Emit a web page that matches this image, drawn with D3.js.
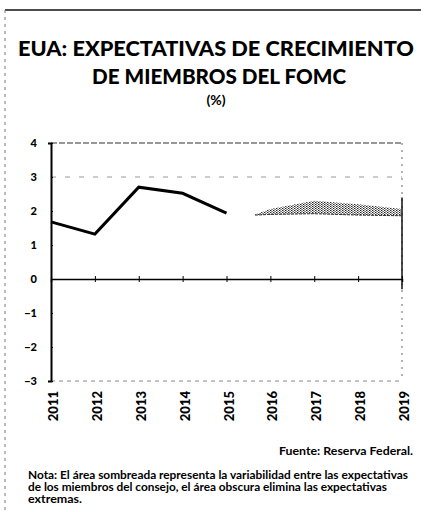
<!DOCTYPE html>
<html>
<head>
<meta charset="utf-8">
<script src="https://cdn.jsdelivr.net/npm/d3@7"></script>
<style>
  body { margin: 0; background: #fff; }
  svg { display: block; }
  text { font-family: Lato, "Open Sans", sans-serif; fill: #000; }
</style>
</head>
<body>
<div id="chart"></div>
<script>
// chart data
var years = [2011, 2012, 2013, 2014, 2015];
var growth = [1.68, 1.32, 2.7, 2.52, 1.94];
// FOMC range of expectations (shaded)
var rangeYears = [2015.65, 2016, 2017, 2018, 2019];
var rangeLow = [1.88, 1.9, 1.92, 1.88, 1.86];
var rangeHigh = [1.9, 2.06, 2.3, 2.2, 2.06];
var yTicks = [-3, -2, -1, 0, 1, 2, 3, 4];
var xTickYears = [2011, 2012, 2013, 2014, 2015, 2016, 2017, 2018, 2019];
var xTickLabels = ["2011", "2012", "2013", "2014", "2015", "2016", "2017", "2018", "2019"];

var W = 425, H = 512;
var svg = d3.select("#chart").append("svg").attr("width", W).attr("height", H);

// dithered fill for the range area
var defs = svg.append("defs");
var pat = defs.append("pattern").attr("id", "dots")
  .attr("width", 3).attr("height", 2).attr("patternUnits", "userSpaceOnUse");
pat.append("rect").attr("x", 0).attr("y", 0).attr("width", 1.4).attr("height", 1).attr("fill", "#222");
pat.append("rect").attr("x", 1.5).attr("y", 1).attr("width", 1.2).attr("height", 1).attr("fill", "#444");

// page frame bits from the scan
svg.append("line").attr("x1", 5).attr("x2", 421).attr("y1", 10).attr("y2", 10)
  .attr("stroke", "#111").attr("stroke-width", 1.5);
svg.append("line").attr("x1", 5).attr("x2", 5).attr("y1", 10).attr("y2", 512)
  .attr("stroke", "#777").attr("stroke-width", 1).attr("stroke-dasharray", "3,4");

// titles
svg.append("text").attr("x", 216).attr("y", 56).attr("text-anchor", "middle")
  .attr("font-size", 21).attr("font-weight", 900)
  .attr("textLength", 396).attr("lengthAdjust", "spacingAndGlyphs")
  .text("EUA: EXPECTATIVAS DE CRECIMIENTO");
svg.append("text").attr("x", 219).attr("y", 84).attr("text-anchor", "middle")
  .attr("font-size", 21).attr("font-weight", 900)
  .attr("textLength", 254).attr("lengthAdjust", "spacingAndGlyphs")
  .text("DE MIEMBROS DEL FOMC");
svg.append("text").attr("x", 216).attr("y", 105).attr("text-anchor", "middle")
  .attr("font-size", 14).attr("font-weight", 700)
  .text("(%)");

// scales
var x = d3.scaleLinear().domain([2011, 2019]).range([51, 402]);
var y = d3.scaleLinear().domain([-3, 4]).range([381, 143]);

// frame and faint gridlines
svg.append("line").attr("x1", x(2011)).attr("x2", x(2019)).attr("y1", y(4)).attr("y2", y(4))
  .attr("stroke", "#333").attr("stroke-width", 1.2).attr("stroke-dasharray", "6,2");
svg.append("line").attr("x1", x(2011)).attr("x2", x(2019)).attr("y1", y(-3)).attr("y2", y(-3))
  .attr("stroke", "#888").attr("stroke-width", 1).attr("stroke-dasharray", "4,4");
svg.append("line").attr("x1", x(2011)).attr("x2", x(2019)).attr("y1", y(3)).attr("y2", y(3))
  .attr("stroke", "#999").attr("stroke-width", 1).attr("stroke-dasharray", "5,9");
svg.append("line").attr("x1", x(2019)).attr("x2", x(2019)).attr("y1", y(4)).attr("y2", y(-3))
  .attr("stroke", "#666").attr("stroke-width", 1).attr("stroke-dasharray", "2,5");
svg.append("line").attr("x1", x(2019)).attr("x2", x(2019)).attr("y1", y(2.4)).attr("y2", y(-0.3))
  .attr("stroke", "#111").attr("stroke-width", 1.5);

// y axis
var yAxis = svg.append("g").attr("transform", "translate(" + x(2011) + ",0)")
  .call(d3.axisLeft(y).tickValues(yTicks).tickSize(3).tickPadding(11).tickFormat(d3.format("d")));
yAxis.select(".domain").attr("stroke", "#000").attr("stroke-width", 2);
yAxis.selectAll(".tick line").attr("x2", 2).attr("stroke", "#000");
yAxis.selectAll("text").attr("font-size", 11).attr("font-weight", 900)
  .attr("font-family", "Lato, sans-serif");

// zero line with crossing ticks
var xAxis = svg.append("g").attr("transform", "translate(0," + y(0) + ")")
  .call(d3.axisBottom(x).tickValues(xTickYears).tickSize(3).tickFormat(""));
xAxis.select(".domain").attr("stroke", "#000").attr("stroke-width", 1.5);
xAxis.selectAll(".tick line").attr("y1", -3).attr("stroke", "#000");

// year labels under the plot
var xLab = svg.append("g").attr("transform", "translate(0," + y(-3) + ")")
  .call(d3.axisBottom(x).tickValues(xTickYears).tickSize(0)
    .tickFormat(function(d, i) { return xTickLabels[i]; }));
xLab.select(".domain").remove();
xLab.selectAll("text")
  .attr("font-size", 13).attr("font-weight", 900).attr("font-family", "Lato, sans-serif")
  .attr("text-anchor", "end")
  .attr("transform", "rotate(-90)")
  .attr("x", -10).attr("y", 2).attr("dy", "0.35em");

// shaded range of expectations
var rangeData = rangeYears.map(function(d, i) { return {year: d, lo: rangeLow[i], hi: rangeHigh[i]}; });
svg.append("path").datum(rangeData)
  .attr("d", d3.area().x(function(d) { return x(d.year); })
    .y0(function(d) { return y(d.lo); }).y1(function(d) { return y(d.hi); }))
  .attr("fill", "url(#dots)");
svg.append("path").datum(rangeData)
  .attr("d", d3.line().x(function(d) { return x(d.year); }).y(function(d) { return y(d.lo); }))
  .attr("fill", "none").attr("stroke", "#333").attr("stroke-width", 1).attr("stroke-dasharray", "3,1");

// historical growth line
var lineData = years.map(function(d, i) { return {year: d, v: growth[i]}; });
svg.append("path").datum(lineData)
  .attr("d", d3.line().x(function(d) { return x(d.year); }).y(function(d) { return y(d.v); }))
  .attr("fill", "none").attr("stroke", "#000").attr("stroke-width", 3).attr("stroke-linejoin", "miter");

// source and note
svg.append("text").attr("x", 413).attr("y", 455).attr("text-anchor", "end")
  .attr("font-size", 11.5).attr("font-weight", 700)
  .attr("textLength", 134).attr("lengthAdjust", "spacingAndGlyphs")
  .text("Fuente: Reserva Federal.");
var notes = [
  ["Nota: El área sombreada representa la variabilidad entre las expectativas", 380],
  ["de los miembros del consejo, el área obscura elimina las expectativas", 359],
  ["extremas.", 54]
];
svg.selectAll(".nota").data(notes).enter().append("text")
  .attr("class", "nota")
  .attr("x", 28).attr("y", function(d, i) { return 479 + i * 12; })
  .attr("font-size", 11).attr("font-weight", 700)
  .attr("textLength", function(d) { return d[1]; }).attr("lengthAdjust", "spacingAndGlyphs")
  .text(function(d) { return d[0]; });
</script>
</body>
</html>
